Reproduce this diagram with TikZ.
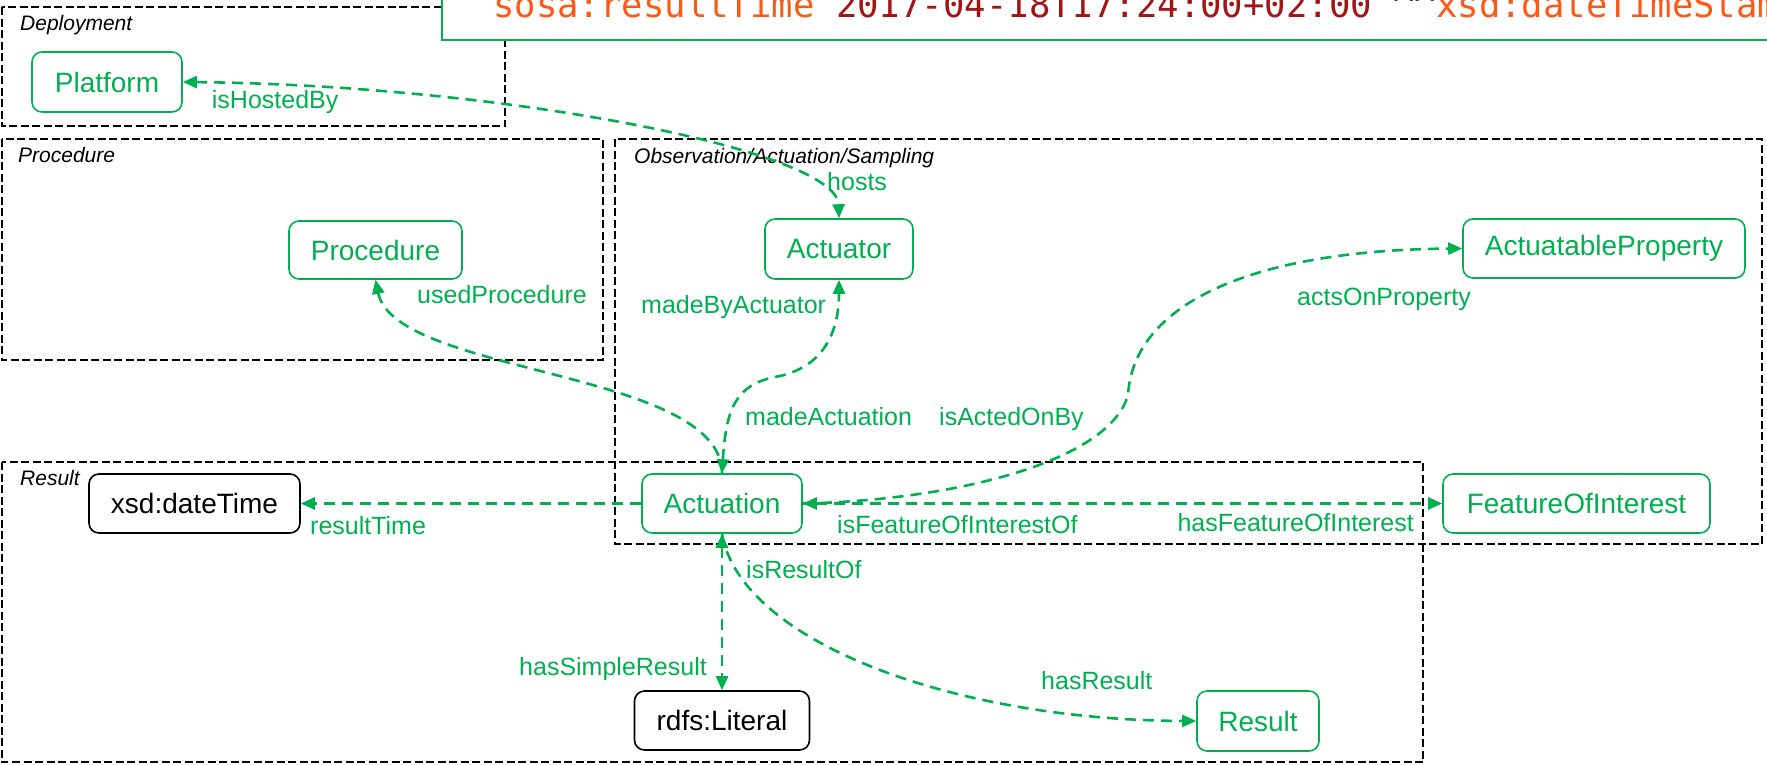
\documentclass[tikz,border=0pt]{standalone}
\usepackage{fontspec}
\setmainfont{Liberation Sans}
\newfontfamily\codefont{DejaVu Sans Mono}
\usetikzlibrary{arrows.meta}
\definecolor{sgreen}{HTML}{00B050}
\definecolor{sorange}{RGB}{250,90,20}
\definecolor{sdred}{RGB}{163,21,21}
\begin{document}
\begin{tikzpicture}[x=1pt,y=-1pt,
  cls/.style={draw=sgreen, text=sgreen, line width=1.6pt, rounded corners=10pt, inner sep=0pt, font=\fontsize{28}{30}\selectfont, align=center},
  lit/.style={cls, draw=black, text=black},
  lbl/.style={text=sgreen, inner sep=0pt, anchor=base west, font=\fontsize{25}{27}\selectfont},
  grp/.style={draw=black, line width=2pt, dash pattern=on 8pt off 3.5pt},
  grplbl/.style={anchor=base west, inner sep=0pt, font=\fontsize{21}{23}\selectfont\itshape},
  rel/.style={draw=sgreen, line width=2.6pt, dash pattern=on 11pt off 7pt},
  >={Triangle[length=14pt,width=12pt]}]
\useasboundingbox (0,0) rectangle (1767,764);
\clip (0,0) rectangle (1767,764);
% groups
\draw[grp] (1.5,7) rectangle (505,126);
\draw[grp] (1.5,139) rectangle (603,360);
\draw[grp] (615,139) rectangle (1762,544);
\draw[grp] (1.5,462) rectangle (1423,762);
\node[grplbl] (gdep) at (20,30) {Deployment};
\node[grplbl] (gproc) at (18,162) {Procedure};
\node[grplbl] (goas) at (634,163) {Observation/Actuation/Sampling};
\node[grplbl] (gres) at (20,485) {Result};
% top code box
\draw[draw=sgreen, line width=2.6pt, fill=white] (442,-10) rectangle (1800,40);
\node[anchor=base west, inner sep=0pt, font=\codefont\fontsize{35.6}{38}\selectfont] (code) at (493,17)
  {\textcolor{sorange}{sosa:resultTime} \textcolor{sdred}{2017-04-18T17:24:00+02:00} \textasciicircum\textasciicircum\textcolor{sorange}{xsd:dateTimeStamp}};
% nodes
\node[cls, minimum width=150pt, minimum height=60pt] (platform) at (107,82) {Platform};
\node[cls, minimum width=173pt, minimum height=58pt] (procedure) at (375.5,250) {Procedure};
\node[cls, minimum width=148pt, minimum height=60pt] (actuator) at (839,249) {Actuator};
\node[cls, minimum width=282pt, minimum height=59pt] (actprop) at (1604,248.5) {ActuatableProperty};
\node[lit, minimum width=211pt, minimum height=59pt] (xsd) at (194.5,503.5) {xsd:dateTime};
\node[cls, minimum width=160pt, minimum height=59pt] (actuation) at (722,503.5) {Actuation};
\node[cls, minimum width=267pt, minimum height=59pt] (foi) at (1576.5,503.5) {FeatureOfInterest};
\node[lit, minimum width=175pt, minimum height=59pt] (literal) at (722,720.5) {rdfs:Literal};
\node[cls, minimum width=122pt, minimum height=60pt] (result) at (1258,721) {Result};
% relations
\draw[rel,<->] (platform.east) .. controls (500,85) and (837,150) .. (actuator.north);
\draw[rel,->] (actuation.north) .. controls (722,370) and (395,375) .. (procedure.south);
\draw[rel,<->] (actuation.north) .. controls (726,410) and (735,385) .. (775,377) .. controls (825,368) and (839,330) .. (actuator.south);
\draw[rel,->] (actuation.east) .. controls (960,500) and (1110,460) .. (1128,395) .. controls (1134,300) and (1260,250) .. (actprop.west);
\draw[rel,->] (actuation.west) -- (xsd.east);
\draw[rel,<->] (actuation.east) -- (foi.west);
\draw[rel,<->] (actuation.south) -- (literal.north);
\draw[rel,->] (actuation.south) .. controls (740,640) and (950,720) .. (result.west);
% labels
\node[lbl] (lhostedby) at (211.7,108.5) {isHostedBy};
\node[lbl] (lhosts) at (827,190) {hosts};
\node[lbl] (lusedproc) at (417,303) {usedProcedure};
\node[lbl] (lmadeby) at (641,313) {madeByActuator};
\node[lbl] (lacts) at (1297,305) {actsOnProperty};
\node[lbl] (lmadeact) at (745,425) {madeActuation};
\node[lbl] (lactedon) at (939,425) {isActedOnBy};
\node[lbl] (lrestime) at (310,534) {resultTime};
\node[lbl] (lisfoi) at (837,533) {isFeatureOfInterestOf};
\node[lbl, anchor=base east] (lhasfoi) at (1414,531) {hasFeatureOfInterest};
\node[lbl] (lisres) at (746,578) {isResultOf};
\node[lbl, anchor=base east] (lsimple) at (707,675) {hasSimpleResult};
\node[lbl] (lhasres) at (1041,689) {hasResult};
\end{tikzpicture}
\end{document}
